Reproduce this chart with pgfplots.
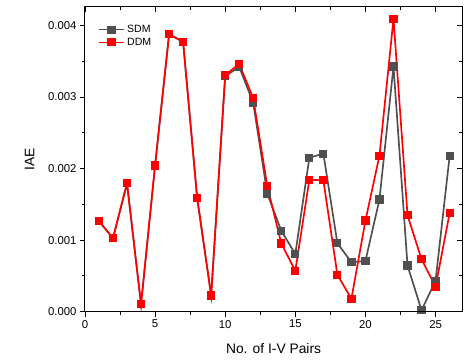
\documentclass[border=0pt]{standalone}
\usepackage{pgfplots}
\pgfplotsset{compat=1.18}
\usepackage{fontspec}
\setmainfont{Liberation Sans}
\definecolor{sdm}{RGB}{80,80,80}
\definecolor{ddm}{RGB}{255,0,0}
\pgfplotsset{
  common/.style={
    scale only axis, width=382pt, height=308.7pt,
    xmin=0, xmax=26.9, ymin=0, ymax=0.00426,
    xtick={0,5,...,25}, ytick={0,0.001,...,0.004},
    minor tick num=1,
    major tick length=5pt, minor tick length=3pt,
    axis line style={line width=1pt},
    every tick/.style={black, line width=0.8pt},
    scaled y ticks=false,
  }
}
\begin{document}
\begin{tikzpicture}
\path (-86pt,-51.3pt) rectangle (383pt,314.7pt);
\begin{axis}[common,
  tick align=outside, xtick pos=bottom, ytick pos=left,
  /pgf/number format/assume math mode=true,
  yticklabel style={/pgf/number format/.cd, fixed, fixed zerofill, precision=3},
  tick label style={font=\fontsize{11.5}{13}\selectfont},
  xlabel={No. of I-V Pairs}, ylabel={IAE},
  label style={font=\fontsize{14}{16}\selectfont},
  xlabel style={at={(axis description cs:0.5,-0.1215)}, anchor=center},
  ylabel style={at={(axis description cs:-0.1466,0.5)}, anchor=center},
  legend style={at={(axis description cs:0.031,0.95)}, anchor=north west, draw=none, fill=none,
    font=\fontsize{10.7}{13}\selectfont, row sep=0pt, inner sep=1pt},
  legend cell align=left,
  legend image code/.code={\draw[mark repeat=2,mark phase=2] plot coordinates {(0pt,0pt)(13pt,0pt)(26pt,0pt)};},
]
\addplot[sdm, line width=1.7pt, mark=square*, mark size=3.3pt, mark options={solid}] coordinates {
(1,0.001265)(2,0.001026)(3,0.001793)(4,0.000102)(5,0.002041)(6,0.003876)(7,0.003771)(8,0.001592)(9,0.000226)
(10,0.003290)(11,0.003420)(12,0.002916)(13,0.001650)(14,0.001131)(15,0.000805)(16,0.002152)(17,0.002207)
(18,0.000957)(19,0.000690)(20,0.000709)(21,0.001568)(22,0.003426)(23,0.000644)(24,0.000020)(25,0.000433)(26,0.002171)};
\addlegendentry{SDM}
\addplot[ddm, line width=1.7pt, mark=square*, mark size=3.3pt, mark options={solid}] coordinates {
(1,0.001265)(2,0.001026)(3,0.001793)(4,0.000102)(5,0.002041)(6,0.003876)(7,0.003771)(8,0.001592)(9,0.000226)
(10,0.003306)(11,0.003462)(12,0.002980)(13,0.001757)(14,0.000952)(15,0.000571)(16,0.001844)(17,0.001835)
(18,0.000515)(19,0.000179)(20,0.001274)(21,0.002180)(22,0.004092)(23,0.001348)(24,0.000731)(25,0.000350)(26,0.001375)};
\addlegendentry{DDM}
\end{axis}
\begin{axis}[common,
  tick align=inside, xtick pos=top, ytick pos=right,
  xticklabels={}, yticklabels={},
]
\end{axis}
\end{tikzpicture}
\end{document}
